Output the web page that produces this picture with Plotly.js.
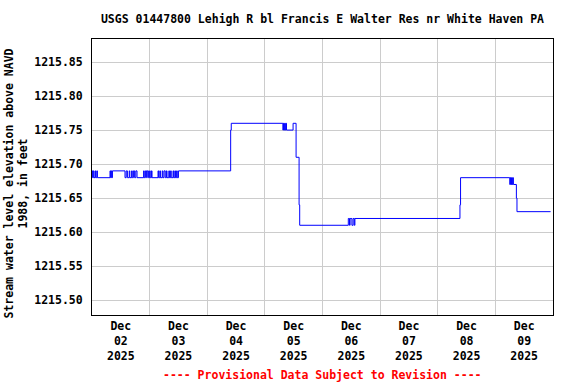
<!DOCTYPE html>
<html>
<head>
<meta charset="utf-8">
<script src="https://cdn.plot.ly/plotly-3.0.1.min.js"></script>
<style>html,body{margin:0;padding:0;background:#fff}#chart{width:576px;height:384px}</style>
</head>
<body>
<div id="chart"></div>
<script>
// Change points of the gage height series (step line, value holds until next time)
const times = [
  "2025-12-02 00:00","2025-12-02 00:15","2025-12-02 00:30","2025-12-02 00:45","2025-12-02 01:15","2025-12-02 01:30","2025-12-02 02:00","2025-12-02 02:15",
  "2025-12-02 07:30","2025-12-02 07:45","2025-12-02 08:00","2025-12-02 08:15","2025-12-02 08:30",
  "2025-12-02 13:45","2025-12-02 14:15","2025-12-02 14:45","2025-12-02 15:30","2025-12-02 15:45","2025-12-02 16:30","2025-12-02 16:45","2025-12-02 17:15","2025-12-02 17:45","2025-12-02 18:15","2025-12-02 18:45",
  "2025-12-02 21:30","2025-12-02 21:45","2025-12-02 22:15","2025-12-02 22:45","2025-12-02 23:00","2025-12-02 23:30",
  "2025-12-03 00:00","2025-12-03 00:15","2025-12-03 00:45","2025-12-03 01:00",
  "2025-12-03 03:30","2025-12-03 03:45","2025-12-03 04:15","2025-12-03 04:30","2025-12-03 05:15","2025-12-03 05:30","2025-12-03 06:00","2025-12-03 06:30","2025-12-03 07:00","2025-12-03 07:15","2025-12-03 08:00","2025-12-03 08:15","2025-12-03 08:45","2025-12-03 09:00","2025-12-03 09:45","2025-12-03 10:00","2025-12-03 10:30","2025-12-03 10:45","2025-12-03 11:15","2025-12-03 11:30","2025-12-03 12:00",
  "2025-12-04 09:45","2025-12-04 10:00",
  "2025-12-05 07:30","2025-12-05 07:45","2025-12-05 08:00","2025-12-05 08:15","2025-12-05 08:30","2025-12-05 08:45","2025-12-05 09:00",
  "2025-12-05 11:45","2025-12-05 13:00","2025-12-05 14:15","2025-12-05 14:30",
  "2025-12-06 10:45","2025-12-06 11:15","2025-12-06 11:30","2025-12-06 12:15","2025-12-06 12:45","2025-12-06 13:15","2025-12-06 13:30",
  "2025-12-08 09:15","2025-12-08 09:30",
  "2025-12-09 06:00","2025-12-09 06:15","2025-12-09 06:30","2025-12-09 06:45","2025-12-09 07:00","2025-12-09 07:15","2025-12-09 07:30",
  "2025-12-09 08:45","2025-12-09 09:00","2025-12-09 23:00"
];
const levels = [
  1215.69,1215.68,1215.69,1215.68,1215.69,1215.68,1215.69,1215.68,
  1215.69,1215.68,1215.69,1215.68,1215.69,
  1215.68,1215.69,1215.68,1215.69,1215.68,1215.69,1215.68,1215.69,1215.68,1215.69,1215.68,
  1215.69,1215.68,1215.69,1215.68,1215.69,1215.68,
  1215.69,1215.68,1215.69,1215.68,
  1215.69,1215.68,1215.69,1215.68,1215.69,1215.68,1215.69,1215.68,1215.69,1215.68,1215.69,1215.68,1215.69,1215.68,1215.69,1215.68,1215.69,1215.68,1215.69,1215.68,1215.69,
  1215.75,1215.76,
  1215.75,1215.76,1215.75,1215.76,1215.75,1215.76,1215.75,
  1215.76,1215.71,1215.64,1215.61,
  1215.62,1215.61,1215.62,1215.61,1215.62,1215.61,1215.62,
  1215.64,1215.68,
  1215.67,1215.68,1215.67,1215.68,1215.67,1215.68,1215.67,
  1215.65,1215.63,1215.63
];
const yTicks = [1215.50,1215.55,1215.60,1215.65,1215.70,1215.75,1215.80,1215.85];
const xRange = ["2025-12-02 00:00","2025-12-10 00:00"];
const yRange = [1215.478,1215.884];
const titleText = "USGS 01447800 Lehigh R bl Francis E Walter Res nr White Haven PA";
const yTitle = "Stream water level elevation above NAVD<br>1988, in feet";
const footer = "---- Provisional Data Subject to Revision ----";

const F = "DejaVu Sans Mono";
const trace = {x: times, y: levels, type: "scatter", mode: "lines",
  line: {color: "#0000ff", width: 1, shape: "hv"}, hoverinfo: "skip"};
const layout = {
  width: 576, height: 384,
  margin: {l: 92, r: 23, t: 39, b: 69},
  paper_bgcolor: "#fff", plot_bgcolor: "#fff",
  showlegend: false,
  font: {family: F, size: 11.5, color: "#000", weight: "bold"},
  title: {text: "<b>" + titleText + "</b>", x: 0.5, xref: "paper", y: 1 - 19/384, yanchor: "middle",
    font: {family: F, size: 11.5, color: "#000"}},
  xaxis: {type: "date", range: xRange, dtick: 86400000, tick0: "2025-12-02",
    ticklabelmode: "period", tickformat: "<b>%b</b><br><b>%d</b><br><b>%Y</b>",
    showgrid: true, gridcolor: "#cccccc", gridwidth: 1, zeroline: false,
    showline: true, mirror: true, linecolor: "#000", linewidth: 1, ticks: "",
    tickfont: {family: F, size: 11.5, color: "#000"}, fixedrange: true},
  yaxis: {range: yRange, tickvals: yTicks, tickformat: ".2f",
    showgrid: true, gridcolor: "#cccccc", gridwidth: 1, zeroline: false,
    showline: true, mirror: true, linecolor: "#000", linewidth: 1, ticks: "",
    ticklabelstandoff: 6,
    tickfont: {family: F, size: 11.5, color: "#000"},
    fixedrange: true},
  annotations: [
    {text: "<b>" + yTitle + "</b>", xref: "paper", yref: "paper", x: (15.5 - 92) / 461, y: (315 - 184) / 276,
      xanchor: "center", yanchor: "middle", textangle: -90, showarrow: false,
      font: {family: F, size: 11.5, color: "#000"}},
    {text: "<b>" + footer + "</b>", xref: "paper", yref: "paper", x: 0.5, y: -60/276,
      xanchor: "center", yanchor: "middle", showarrow: false,
      font: {family: F, size: 11.5, color: "#ff0000"}}]
};
Plotly.newPlot("chart", [trace], layout, {displayModeBar: false, staticPlot: true});
</script>
</body>
</html>
